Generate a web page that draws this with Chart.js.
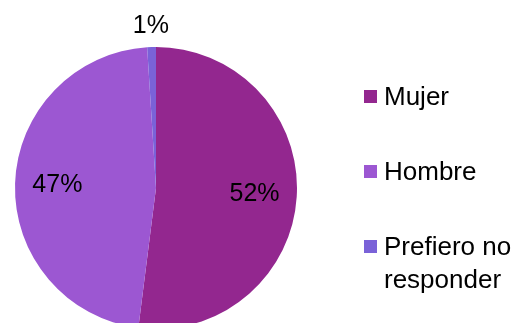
<!DOCTYPE html>
<html>
<head>
<meta charset="utf-8">
<script src="https://cdn.jsdelivr.net/npm/chart.js@4/dist/chart.umd.min.js"></script>
<style>
  html, body { margin: 0; padding: 0; background: #ffffff; overflow: hidden; }
  #wrap { width: 517px; height: 323px; overflow: hidden; }
</style>
</head>
<body>
<div id="wrap">
  <canvas id="chart" width="517" height="340"></canvas>
</div>
<script>
const categories = ['Mujer', 'Hombre', ['Prefiero no', 'responder']]
const percentages = [52, 47, 1]
const sliceColors = ['#93278f', '#9c57d2', '#7a62d8']

const FONT = '"Liberation Sans", Arial, sans-serif'

// percentage text on each slice, thin slices get theirs outside the rim
const sliceLabels = {
    id: 'sliceLabels',
    afterDatasetsDraw(chart) {
        const ctx = chart.ctx
        const meta = chart.getDatasetMeta(0)
        const values = chart.data.datasets[0].data
        ctx.save()
        ctx.font = '25px ' + FONT
        ctx.fillStyle = '#000000'
        ctx.textAlign = 'center'
        ctx.textBaseline = 'middle'
        meta.data.forEach((arc, i) => {
            const {x, y, startAngle, endAngle, outerRadius} = arc.getProps(['x', 'y', 'startAngle', 'endAngle', 'outerRadius'], true)
            const mid = (startAngle + endAngle) / 2
            const dist = values[i] < 5 ? outerRadius + 21 : outerRadius * 0.7
            ctx.fillText(values[i] + '%', x + Math.cos(mid) * dist, y + Math.sin(mid) * dist)
        })
        ctx.restore()
    }
}

// legend column on the right
const sideLegend = {
    id: 'sideLegend',
    afterDraw(chart) {
        const ctx = chart.ctx
        const labels = chart.data.labels
        const colors = chart.data.datasets[0].backgroundColor
        ctx.save()
        ctx.font = '26px ' + FONT
        ctx.textAlign = 'left'
        ctx.textBaseline = 'middle'
        labels.forEach((label, i) => {
            const cy = 96.5 + i * 75
            ctx.fillStyle = colors[i]
            ctx.fillRect(364, cy - 6.5, 13, 13)
            ctx.fillStyle = '#000000'
            const lines = Array.isArray(label) ? label : [label]
            lines.forEach((line, j) => ctx.fillText(line, 384, cy + 1 + j * 33))
        })
        ctx.restore()
    }
}

new Chart(document.getElementById('chart'), {
    type: 'pie',
    data: {
        labels: categories,
        datasets: [{
            data: percentages,
            backgroundColor: sliceColors,
            borderWidth: 0,
            hoverOffset: 0
        }]
    },
    options: {
        responsive: false,
        animation: false,
        layout: {
            padding: {left: 15, right: 220, top: 47, bottom: 11}
        },
        plugins: {
            legend: {display: false},
            tooltip: {enabled: false}
        }
    },
    plugins: [sliceLabels, sideLegend]
})
</script>
</body>
</html>
